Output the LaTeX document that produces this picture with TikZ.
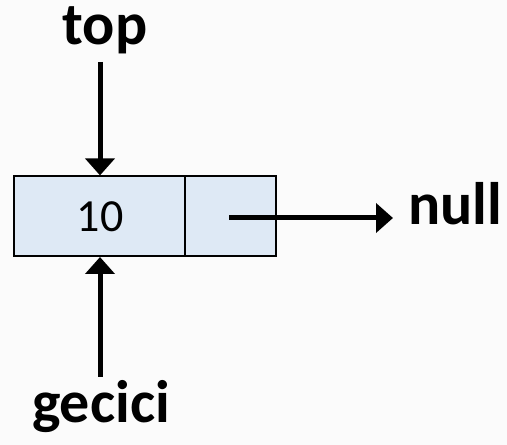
\documentclass[tikz,border=0pt]{standalone}
\usepackage{fontspec}
\setmainfont{Carlito}
\usetikzlibrary{arrows.meta}
\definecolor{pagebg}{HTML}{FBFBFB}
\definecolor{cellblue}{HTML}{DEE9F5}
\begin{document}
\begin{tikzpicture}[x=1pt,y=1pt,
  cell/.style={draw=black, line width=1.6pt, fill=cellblue, minimum height=80pt,
               inner sep=0pt, anchor=south west},
  lbl/.style={font=\bfseries\fontsize{60}{66}\selectfont, inner sep=0pt, anchor=base},
  ptr/.style={line width=5pt, -{Triangle[width=29pt,length=17pt]}}]
  % page background and fixed frame
  \fill[pagebg] (0,0) rectangle (507,445);
  \useasboundingbox (0,0) rectangle (507,445);

  % the list node: data cell and next cell
  \node[cell, minimum width=171pt] (data) at (13,188) {};
  \node[cell, minimum width=91pt] (next) at (184,188) {};
  \node[inner sep=0pt, anchor=base, font=\fontsize{46}{50}\selectfont] (val) at (100,213) {10};

  % labels
  \node[lbl] (top) at (105,400) {top};
  \node[lbl] (gecici) at (101,22) {gecici};
  \node[lbl, anchor=base west] (null) at (408,220) {null};

  % pointers
  \coordinate (topstart) at (100,383);
  \coordinate (gecstart) at (100,68);
  \coordinate (nextptr) at (229,227);
  \draw[ptr] (topstart) -- (data.north -| topstart);
  \draw[ptr] (gecstart) -- (data.south -| gecstart);
  \draw[ptr, shorten >=15pt] (nextptr) -- (null.west |- nextptr);
\end{tikzpicture}
\end{document}
